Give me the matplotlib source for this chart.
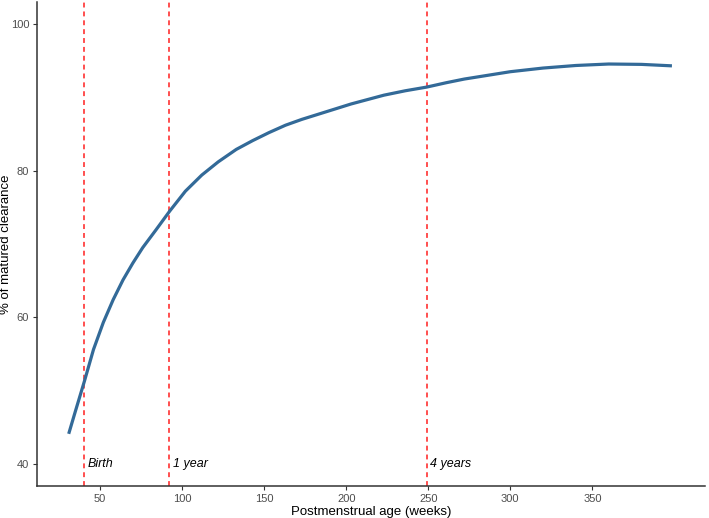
import numpy as np
import matplotlib.pyplot as plt

plt.rcParams['font.family'] = ['Liberation Sans', 'DejaVu Sans']

# Curve
age_weeks = [30.9, 35, 40.5, 46, 52, 58, 64, 70, 76, 84, 92.5, 102, 112,
             122, 133, 143, 153, 163, 173, 183, 193, 203, 213, 223, 236,
             249, 261, 272, 286, 300, 320, 340, 360, 380, 398.5]
pct_matured = [44.1, 47.2, 51.3, 55.6, 59.3, 62.4, 65.1, 67.4, 69.5, 71.9,
               74.5, 77.2, 79.4, 81.2, 82.9, 84.1, 85.2, 86.2, 87.0, 87.7,
               88.4, 89.1, 89.7, 90.3, 90.9, 91.4, 92.0, 92.5, 93.0, 93.5,
               94.0, 94.35, 94.55, 94.5, 94.3]

# Reference lines
milestones = [40, 92, 249]
milestone_labels = ['Birth', '1 year', '4 years']

x_ticks = [50, 100, 150, 200, 250, 300, 350]
y_ticks = [40, 60, 80, 100]


def main():
    fig = plt.figure(figsize=(7.09, 5.18), dpi=100)
    ax = fig.add_axes([0.052, 0.062, 0.942, 0.934])

    ax.plot(age_weeks, pct_matured, color='#336a98', lw=2.3,
            solid_capstyle='butt', solid_joinstyle='round', zorder=3)

    for xv, lab in zip(milestones, milestone_labels):
        ax.axvline(xv, color='#ff1f1f', lw=1.1, dashes=(3.2, 2.6), zorder=2)
        ax.text(xv + 2.2, 40, lab, style='italic', fontsize=9,
                ha='left', va='center', color='black')

    ax.set_xlim(11.5, 418.5)
    ax.set_ylim(37, 103)
    ax.set_xticks(x_ticks)
    ax.set_yticks(y_ticks)

    for side in ['top', 'right']:
        ax.spines[side].set_visible(False)
    for side in ['left', 'bottom']:
        ax.spines[side].set_color('#333333')
        ax.spines[side].set_linewidth(1.1)
    ax.tick_params(direction='out', length=3, width=0.8, color='#333333',
                   labelcolor='#4d4d4d', labelsize=8, pad=2.5)

    ax.set_xlabel('Postmenstrual age (weeks)', fontsize=9.5, labelpad=2)
    ax.set_ylabel('% of matured clearance', fontsize=9.5)
    ax.yaxis.set_label_coords(-0.037, 0.5)

    fig.savefig('out.png', dpi=100)


if __name__ == "__main__":
    main()
